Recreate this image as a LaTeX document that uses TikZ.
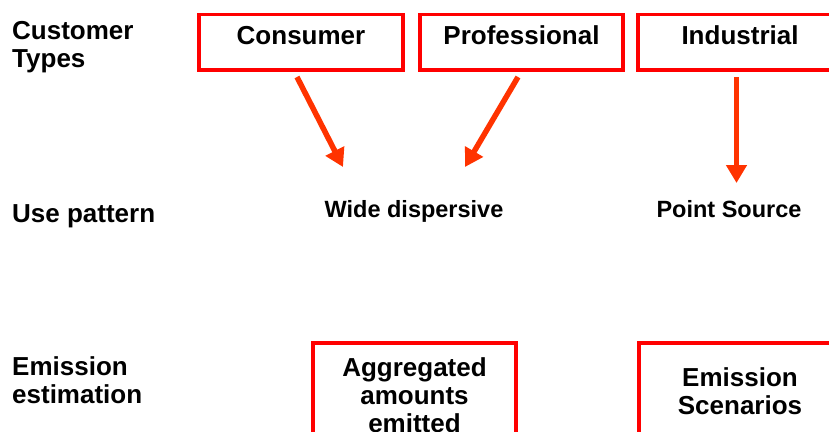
\documentclass[tikz,border=0pt]{standalone}
\usepackage{fontspec}
\setmainfont{Liberation Sans}
\usetikzlibrary{arrows.meta}
\definecolor{boxred}{RGB}{255,0,0}
\definecolor{arrred}{RGB}{255,51,0}
\begin{document}
\begin{tikzpicture}[x=1pt,y=-1pt,
  boxframe/.style={draw=boxred,line width=3.5pt,inner sep=0pt,outer sep=0pt},
  lbl/.style={font=\bfseries\fontsize{26}{27.5}\selectfont,inner sep=0pt,align=left,anchor=base west},
  ctxt/.style={font=\bfseries\fontsize{26}{28}\selectfont,inner sep=0pt,align=center,anchor=base},
  stxt/.style={font=\bfseries\fontsize{23.5}{26}\selectfont,inner sep=0pt,anchor=base},
  flow/.style={draw=arrred,line width=5.5pt,-{Triangle[length=18pt,width=20pt]}}]
\useasboundingbox (0,0) rectangle (829,431);
\fill[white] (0,0) rectangle (829,431);
\clip (0,0) rectangle (829,431);

% row labels (anchor at baseline of the last line)
\node[lbl] (rowA) at (12,67) {Customer\\Types};
\node[lbl] (rowB) at (12,222) {Use pattern};
\node[lbl] (rowC) at (12,403) {Emission\\estimation};

% top boxes
\node[boxframe,minimum width=204pt,minimum height=55.3pt] (cons) at (301,42.35) {};
\node[boxframe,minimum width=203pt,minimum height=55.3pt] (prof) at (521.5,42.35) {};
\node[boxframe,minimum width=204pt,minimum height=55.3pt] (ind) at (740,42.35) {};
\node[ctxt] (consT) at (301,44.3) {Consumer};
\node[ctxt] (profT) at (521.5,44.3) {Professional};
\node[ctxt] (indT) at (740,44.3) {Industrial};

% use pattern
\node[stxt] (wide) at (414,217) {Wide dispersive};
\node[stxt] (point) at (729,217) {Point Source};

% bottom boxes
\node[boxframe,minimum width=203pt,minimum height=120pt] (agg) at (414.5,403) {};
\node[boxframe,minimum width=202pt,minimum height=120pt] (emis) at (740,403) {};
\node[ctxt] (aggT) at (414.5,432) {Aggregated\\amounts\\emitted};
\node[ctxt] (emisT) at (740,414) {Emission\\Scenarios};

% arrows
\coordinate (a1s) at (297,77);
\coordinate (a1e) at (343,167);
\coordinate (a2s) at (518,77);
\coordinate (a2e) at (465,167);
\coordinate (a3s) at (736.5,77);
\coordinate (a3e) at (736.5,183);
\draw[flow] (a1s) -- (a1e);
\draw[flow] (a2s) -- (a2e);
\draw[flow] (a3s) -- (a3e);
\end{tikzpicture}
\end{document}
